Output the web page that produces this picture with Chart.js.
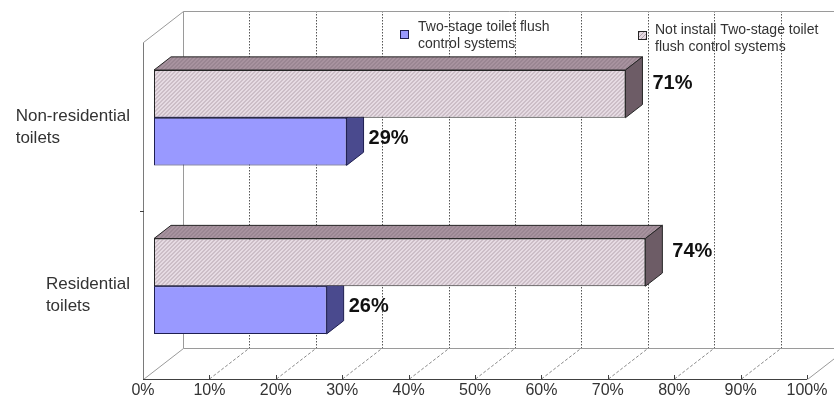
<!DOCTYPE html>
<html>
<head>
<meta charset="utf-8">
<script src="https://cdn.jsdelivr.net/npm/chart.js@4.4.0/dist/chart.umd.min.js"></script>
<style>
  html, body { margin: 0; padding: 0; background: #ffffff; }
  #wrap { width: 834px; height: 405px; }
</style>
</head>
<body>
<div id="wrap"><canvas id="chart" width="834" height="405"></canvas></div>
<script>
// Share of toilets with / without two-stage flush control, by building type
const categories = [['Non-residential', 'toilets'], ['Residential', 'toilets']];
const seriesNames = [['Two-stage toilet flush', 'control systems'],
                     ['Not install Two-stage toilet', 'flush control systems']];
const twoStage = [29, 26];
const notInstalled = [71, 74];
const percentTicks = [0, 10, 20, 30, 40, 50, 60, 70, 80, 90, 100];

const FONT = '"Liberation Sans", Arial, Helvetica, sans-serif';

// Oblique depth of the 3D box (full depth) and where the bars sit inside it
const DEPTH_X = 40, DEPTH_Y = -31;
const BAR_FRONT = 0.275, BAR_BACK = 0.7;

function hatch(base, line) {
  const t = document.createElement('canvas');
  t.width = 4; t.height = 4;
  const g = t.getContext('2d');
  g.fillStyle = base; g.fillRect(0, 0, 4, 4);
  g.strokeStyle = line; g.lineWidth = 0.9;
  g.beginPath();
  g.moveTo(-1, 5); g.lineTo(5, -1);
  g.moveTo(-1, 1); g.lineTo(1, -1);
  g.moveTo(3, 5); g.lineTo(5, 3);
  g.stroke();
  return g.createPattern(t, 'repeat');
}

const ctx0 = document.getElementById('chart').getContext('2d');
const hatchFront = hatch('#e6dbe3', '#ab9ba5');
const hatchTop = hatch('#a8939f', '#8a7682');

const faceStyles = {
  0: { top: hatchTop, side: '#6d5c66', edge: '#262626', labelDx: 38, labelDy: -19 },
  1: { top: '#6c6cc0', side: '#4a4a8e', edge: '#1e1e50', labelDx: 33, labelDy: -12 }
};

function poly(ctx, pts, fill, stroke) {
  ctx.beginPath();
  ctx.moveTo(pts[0][0], pts[0][1]);
  for (let i = 1; i < pts.length; i++) ctx.lineTo(pts[i][0], pts[i][1]);
  ctx.closePath();
  ctx.fillStyle = fill; ctx.fill();
  ctx.lineWidth = 1; ctx.strokeStyle = stroke; ctx.stroke();
}

const box3d = {
  id: 'box3d',
  beforeDatasetsDraw(chart) {
    const { ctx, chartArea: a, scales: { x, y } } = chart;
    const L = a.left, R = a.right, T = a.top, B = a.bottom;
    ctx.save();
    ctx.lineWidth = 1;
    // back wall and floor gridlines
    percentTicks.forEach(v => {
      const px = Math.round(x.getPixelForValue(v)) + 0.5;
      if (v > 0 && v < 100) {
        ctx.strokeStyle = '#555';
        ctx.setLineDash([1.5, 1.5]);
        ctx.beginPath();
        ctx.moveTo(px + DEPTH_X, T + DEPTH_Y);
        ctx.lineTo(px + DEPTH_X, B + DEPTH_Y);
        ctx.stroke();
        ctx.strokeStyle = '#888';
        ctx.setLineDash([3, 2]);
        ctx.beginPath();
        ctx.moveTo(px, B);
        ctx.lineTo(px + DEPTH_X, B + DEPTH_Y);
        ctx.stroke();
      }
    });
    ctx.setLineDash([]);
    ctx.strokeStyle = '#9a9a9a';
    ctx.beginPath();
    // back wall outline
    ctx.moveTo(L + DEPTH_X + 0.5, B + DEPTH_Y + 0.5);
    ctx.lineTo(L + DEPTH_X + 0.5, T + DEPTH_Y + 0.5);
    ctx.lineTo(R + DEPTH_X + 0.5, T + DEPTH_Y + 0.5);
    ctx.moveTo(L + DEPTH_X + 0.5, B + DEPTH_Y + 0.5);
    ctx.lineTo(R + DEPTH_X + 0.5, B + DEPTH_Y + 0.5);
    // left wall
    ctx.moveTo(L + 0.5, T + 0.5);
    ctx.lineTo(L + DEPTH_X + 0.5, T + DEPTH_Y + 0.5);
    ctx.moveTo(L + 0.5, B + 0.5);
    ctx.lineTo(L + DEPTH_X + 0.5, B + DEPTH_Y + 0.5);
    // floor right edge
    ctx.moveTo(R + 0.5, B + 0.5);
    ctx.lineTo(R + DEPTH_X + 0.5, B + DEPTH_Y + 0.5);
    ctx.stroke();
    ctx.strokeStyle = '#7a7a7a';
    ctx.beginPath();
    ctx.moveTo(L + 0.5, T + 0.5);
    ctx.lineTo(L + 0.5, B + 0.5);
    ctx.stroke();
    // front value axis with inward tick marks
    ctx.strokeStyle = '#404040';
    ctx.beginPath();
    ctx.moveTo(L, B + 0.5);
    ctx.lineTo(R, B + 0.5);
    percentTicks.forEach(v => {
      if (v === 0) return;
      const px = Math.round(x.getPixelForValue(v)) + 0.5;
      ctx.moveTo(px, B);
      ctx.lineTo(px, B - 4);
    });
    // category divider tick on the left edge
    const mid = Math.round((y.getPixelForValue(0) + y.getPixelForValue(1)) / 2) + 0.5;
    ctx.moveTo(L - 3, mid);
    ctx.lineTo(L + 1, mid);
    ctx.stroke();
    ctx.restore();

    // bars sit partway into the box
    ctx.save();
    ctx.translate(DEPTH_X * BAR_FRONT, DEPTH_Y * BAR_FRONT);
  },
  afterDatasetDraw(chart, args) {
    const { ctx } = chart;
    const st = faceStyles[args.index];
    const dx = DEPTH_X * (BAR_BACK - BAR_FRONT), dy = DEPTH_Y * (BAR_BACK - BAR_FRONT);
    args.meta.data.forEach(el => {
      const p = el.getProps(['x', 'y', 'base', 'height'], true);
      const top = p.y - p.height / 2, bot = p.y + p.height / 2;
      poly(ctx, [[p.base, top], [p.x, top], [p.x + dx, top + dy], [p.base + dx, top + dy]], st.top, st.edge);
      poly(ctx, [[p.x, top], [p.x + dx, top + dy], [p.x + dx, bot + dy], [p.x, bot]], st.side, st.edge);
    });
  },
  afterDatasetsDraw(chart) {
    const { ctx, scales: { y } } = chart;
    ctx.restore();

    // value labels beside each bar
    ctx.save();
    ctx.font = 'bold 20px ' + FONT;
    ctx.fillStyle = '#111';
    ctx.textBaseline = 'middle';
    ctx.textAlign = 'left';
    chart.data.datasets.forEach((ds, di) => {
      const st = faceStyles[di];
      chart.getDatasetMeta(di).data.forEach((el, i) => {
        const p = el.getProps(['x', 'y'], true);
        ctx.fillText(ds.data[i] + '%', p.x + st.labelDx, p.y + st.labelDy);
      });
    });
    ctx.restore();

    // category labels: left-aligned lines, block ending at the box
    ctx.save();
    ctx.font = '17px ' + FONT;
    ctx.fillStyle = '#333';
    ctx.textBaseline = 'middle';
    ctx.textAlign = 'left';
    categories.forEach((lines, i) => {
      const cy = y.getPixelForValue(i);
      const w = Math.max(...lines.map(s => ctx.measureText(s).width));
      const x0 = 130 - w;
      lines.forEach((s, k) => ctx.fillText(s, x0, cy - 10 + k * 22));
    });
    ctx.restore();

    // legend
    ctx.save();
    ctx.font = '14px ' + FONT;
    ctx.textBaseline = 'middle';
    const legend = [
      { bx: 400, by: 30, tx: 418, ty: 27, fill: '#9999ff', edge: '#1e1e50' },
      { bx: 638, by: 31, tx: 655, ty: 30, fill: hatchFront, edge: '#262626' }
    ];
    legend.forEach((lg, i) => {
      ctx.fillStyle = lg.fill;
      ctx.fillRect(lg.bx, lg.by, 9, 9);
      ctx.strokeStyle = lg.edge; ctx.lineWidth = 1;
      ctx.strokeRect(lg.bx + 0.5, lg.by + 0.5, 8, 8);
      ctx.fillStyle = '#333';
      seriesNames[i].forEach((s, k) => ctx.fillText(s, lg.tx, lg.ty + k * 17));
    });
    ctx.restore();
  }
};

new Chart(ctx0, {
  type: 'bar',
  data: {
    labels: categories,
    datasets: [
      {
        label: seriesNames[1].join(' '),
        data: notInstalled,
        backgroundColor: hatchFront,
        borderColor: '#262626',
        borderWidth: 1,
        borderSkipped: false,
        clip: false
      },
      {
        label: seriesNames[0].join(' '),
        data: twoStage,
        backgroundColor: '#9999ff',
        borderColor: '#1e1e50',
        borderWidth: 1,
        borderSkipped: false,
        clip: false
      }
    ]
  },
  options: {
    indexAxis: 'y',
    responsive: false,
    animation: false,
    events: [],
    layout: { padding: { left: 143, right: 27, top: 42, bottom: 2.8 } },
    datasets: { bar: { barPercentage: 1, categoryPercentage: 0.566 } },
    scales: {
      x: {
        min: 0, max: 100,
        afterBuildTicks: s => { s.ticks = percentTicks.map(v => ({ value: v })); },
        grid: { display: false, drawTicks: false },
        border: { display: false },
        ticks: {
          padding: 2,
          autoSkip: false,
          maxRotation: 0,
          color: '#333',
          font: { family: FONT, size: 16 },
          callback: v => v + '%'
        }
      },
      y: { display: false }
    },
    plugins: { legend: { display: false }, tooltip: { enabled: false } }
  },
  plugins: [box3d]
});
</script>
</body>
</html>
